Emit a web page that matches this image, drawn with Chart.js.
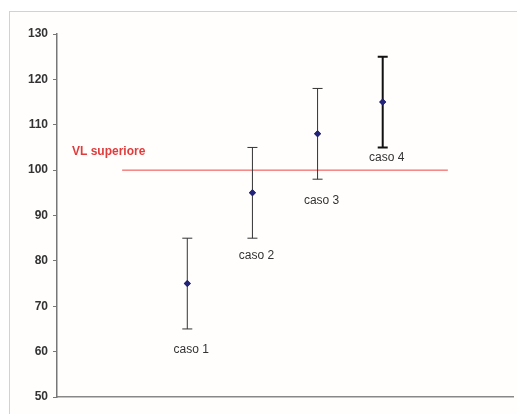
<!DOCTYPE html>
<html>
<head>
<meta charset="utf-8">
<script src="https://cdn.jsdelivr.net/npm/chart.js@4"></script>
<style>
  html, body { margin: 0; padding: 0; background: #fff; }
  #wrap { position: relative; width: 517px; height: 414px; overflow: hidden; }
  #frame { position: absolute; left: 9px; top: 11px; right: -5px; bottom: -5px;
           border: 1px solid #f0c9b2; background: #fffefd; }
  canvas { position: absolute; left: 0; top: 0; }
</style>
</head>
<body>
<div id="wrap">
  <div id="frame"></div>
  <canvas id="c" width="517" height="414"></canvas>
</div>
<script>
// DATA
const cases = ["caso 1", "caso 2", "caso 3", "caso 4"];
const caseX = [1, 2, 3, 4];
const means = [75, 95, 108, 115];
const lows = [65, 85, 98, 105];
const highs = [85, 105, 118, 125];
const limitLabel = "VL superiore";
const limitValue = 100;
const limitFrom = 0;
const limitTo = 5;

// error bars + case labels + limit label
const errorBars = {
  id: "errorBars",
  afterDatasetsDraw(chart, args, opts) {
    const ctx = chart.ctx;
    const xs = chart.scales.x, ys = chart.scales.y;
    ctx.save();
    cases.forEach((name, i) => {
      const px = xs.getPixelForValue(caseX[i]);
      const pLo = ys.getPixelForValue(lows[i]);
      const pHi = ys.getPixelForValue(highs[i]);
      const bold = i === 3;
      ctx.strokeStyle = bold ? "#111" : "#333";
      ctx.lineWidth = bold ? 2 : 1;
      ctx.beginPath();
      ctx.moveTo(px, pLo); ctx.lineTo(px, pHi);
      ctx.moveTo(px - 5, pLo); ctx.lineTo(px + 5, pLo);
      ctx.moveTo(px - 5, pHi); ctx.lineTo(px + 5, pHi);
      ctx.stroke();

      ctx.fillStyle = "#333";
      ctx.font = "12px 'Liberation Sans', Arial";
      ctx.textAlign = "center";
      ctx.textBaseline = "middle";
      ctx.fillText(name, px + 4, pLo + opts.labelDy[i]);
    });
    // redraw points on top of bars
    const meta = chart.getDatasetMeta(0);
    meta.data.forEach(el => el.draw(ctx));

    ctx.fillStyle = "#e03c3c";
    ctx.font = "bold 12px 'Liberation Sans', Arial";
    ctx.textAlign = "left";
    ctx.textBaseline = "middle";
    ctx.fillText(limitLabel, chart.chartArea.left + 15, ys.getPixelForValue(limitValue) - 18);
    ctx.restore();
  }
};

new Chart(document.getElementById("c"), {
  type: "scatter",
  data: {
    datasets: [
      {
        data: caseX.map((x, i) => ({ x: x, y: means[i] })),
        pointStyle: "rectRot",
        pointRadius: 3.5,
        pointBackgroundColor: "#23237a",
        pointBorderColor: "#23237a",
        pointBorderWidth: 0
      },
      {
        type: "line",
        data: [{ x: limitFrom, y: limitValue }, { x: limitTo, y: limitValue }],
        borderColor: "#ee4444",
        borderWidth: 1,
        pointRadius: 0,
        fill: false
      }
    ]
  },
  options: {
    responsive: false,
    animation: false,
    layout: { padding: { left: 0, top: 34, right: 4, bottom: 17 } },
    plugins: {
      legend: { display: false },
      tooltip: { enabled: false },
      errorBars: { labelDy: [21, 17, 21, 10] }
    },
    scales: {
      x: {
        type: "linear",
        min: -1,
        max: 6,
        ticks: { display: false },
        grid: { display: false },
        border: { display: true, color: "#888", width: 1.5 },
        afterFit(s) { s.height = 0; }
      },
      y: {
        min: 50,
        max: 130,
        ticks: {
          stepSize: 10,
          padding: 5,
          color: "#333",
          font: { family: "'Liberation Sans', Arial", size: 12, weight: "bold" }
        },
        grid: { drawOnChartArea: false, drawTicks: true, tickLength: 4, color: "#777" },
        border: { display: true, color: "#777", width: 1.5 },
        afterFit(s) { s.width = 57; }
      }
    }
  },
  plugins: [errorBars]
});
</script>
</body>
</html>
